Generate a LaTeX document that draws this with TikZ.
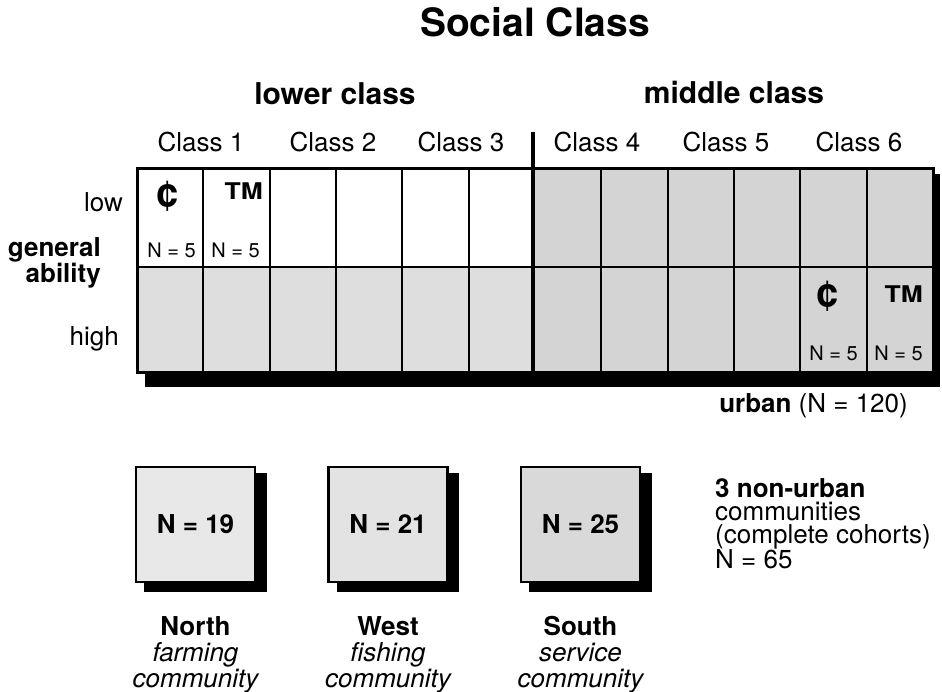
\documentclass[tikz,border=0pt]{standalone}
\usepackage{fontspec}
\usepackage{graphicx}
\setmainfont{TeX Gyre Heros}
\newcommand\myfs[1]{\fontsize{#1}{#1}\selectfont}
\begin{document}
\begin{tikzpicture}[x=1pt,y=-1pt,
  txt/.style={inner sep=0pt, font=\myfs{26}},
  btxt/.style={inner sep=0pt, font=\myfs{26}\bfseries},
  head/.style={inner sep=0pt, font=\myfs{30}\bfseries},
  small/.style={inner sep=0pt, font=\myfs{20}},
  sym/.style={inner sep=0pt, font=\myfs{40}\bfseries},
  tmark/.style={inner sep=0pt, font=\myfs{23}\bfseries},
  stip/.style={fill=black!13},
  stipd/.style={fill=black!17},
  shad/.style={fill=black},
  cellline/.style={line width=2pt},
  border/.style={line width=3pt},
  divider/.style={line width=4pt},
  commbox/.style={draw, line width=2.5pt, minimum width=119pt, minimum height=115pt, inner sep=0pt, font=\myfs{26}\bfseries}]
\useasboundingbox (0,0) rectangle (942,692);

% title and headings
\node[anchor=base, inner sep=0pt, font=\myfs{39}\bfseries] (title) at (535,37) {Social Class};
\node[head, anchor=base] (lower) at (335,105) {lower class};
\node[head, anchor=base] (middle) at (734,104) {middle class};
\node[txt, anchor=base] (c1) at (201,152) {Class 1};
\node[txt, anchor=base] (c2) at (333,152) {Class 2};
\node[txt, anchor=base] (c3) at (461,152) {Class 3};
\node[txt, anchor=base] (c4) at (597,152) {Class 4};
\node[txt, anchor=base] (c5) at (726,152) {Class 5};
\node[txt, anchor=base] (c6) at (859,152) {Class 6};

% row labels
\node[txt, anchor=base east] (low) at (123,212) {low};
\node[btxt, anchor=base east] (gen) at (101,257) {general};
\node[btxt, anchor=base east] (abil) at (101,283) {ability};
\node[txt, anchor=base east] (high) at (119,346) {high};

% grid
\fill[shad] (145,174) rectangle (940,387);
\fill[white] (137,169) rectangle (933,372);
\fill[stipd] (533,169) rectangle (933,267);
\fill[stip] (137,267) rectangle (533,372);
\fill[stipd] (533,267) rectangle (933,372);
\foreach \i in {1,2,3,4,5,7,8,9,10,11} {
  \draw[cellline] ({137+\i*66.33},169) -- ({137+\i*66.33},372);
}
\draw[line width=2.5pt] (137,267) -- (933,267);
\draw[border] (137,169) rectangle (933,372);
\draw[divider] (533,132) -- (533,373);

% cell contents
\node[sym, anchor=base] (cent1) at (168,207) {¢};
\node[tmark, anchor=base east] (tm1) at (263,200) {\scalebox{1.15}[1]{TM}};
\node[small, anchor=base east] (n1) at (196,258) {N = 5};
\node[small, anchor=base east] (n2) at (260,258) {N = 5};
\node[sym, anchor=base] (cent2) at (828,307) {¢};
\node[tmark, anchor=base east] (tm2) at (923,303) {\scalebox{1.15}[1]{TM}};
\node[small, anchor=base east] (n3) at (858,360) {N = 5};
\node[small, anchor=base east] (n4) at (923,360) {N = 5};

\node[txt, anchor=base east] (urban) at (908,412) {\textbf{urban} (N = 120)};

% community boxes
\fill[shad] (144,473) rectangle (267,592);
\fill[shad] (337,473) rectangle (459,592);
\fill[shad] (529,473) rectangle (652,592);
\node[commbox, fill=black!9] (north) at (195.5,524.5) {N = 19};
\node[commbox, fill=black!11] (west) at (388,524.5) {N = 21};
\node[commbox, fill=black!15] (south) at (580.5,524.5) {N = 25};

\node[btxt, anchor=base] (northl) at (195.5,635) {North};
\node[txt, anchor=base, font=\myfs{26}\itshape] (northa) at (195.5,661) {farming};
\node[txt, anchor=base, font=\myfs{26}\itshape] (northb) at (195.5,687) {community};
\node[btxt, anchor=base] (westl) at (388,635) {West};
\node[txt, anchor=base, font=\myfs{26}\itshape] (westa) at (388,661) {fishing};
\node[txt, anchor=base, font=\myfs{26}\itshape] (westb) at (388,687) {community};
\node[btxt, anchor=base] (southl) at (580.5,635) {South};
\node[txt, anchor=base, font=\myfs{26}\itshape] (southa) at (580.5,661) {service};
\node[txt, anchor=base, font=\myfs{26}\itshape] (southb) at (580.5,687) {community};

% right text
\node[inner sep=0pt, anchor=north west, align=left, font=\fontsize{26}{23}\selectfont] (nonurban) at (715,478)
  {\textbf{3 non-urban}\\communities\\(complete cohorts)\\N = 65};
\end{tikzpicture}
\end{document}
